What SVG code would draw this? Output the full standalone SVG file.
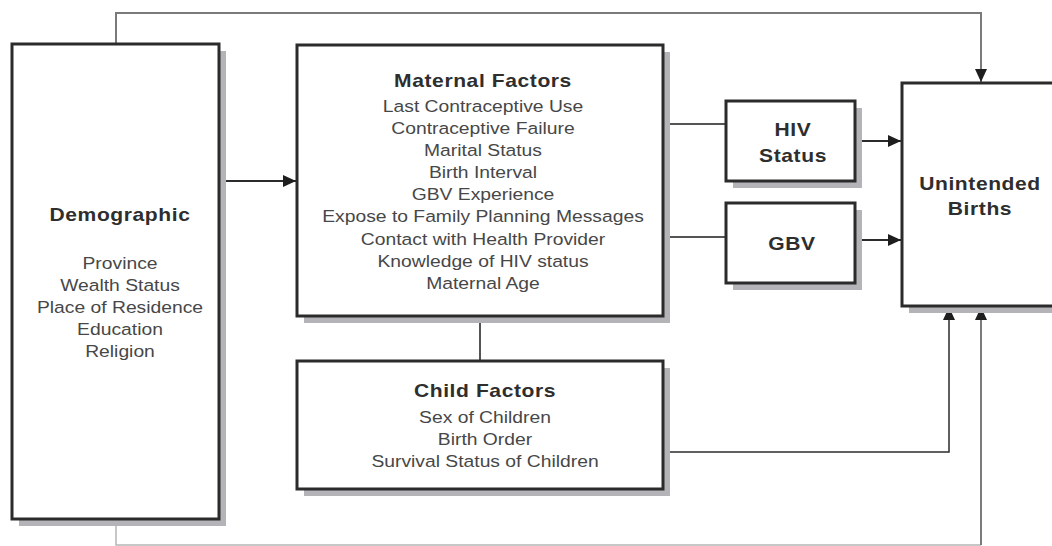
<svg xmlns="http://www.w3.org/2000/svg" width="1052" height="546" viewBox="0 0 1052 546">
<style>
.box{fill:#ffffff;stroke:#2b2b2b;stroke-width:3}
.shadow{fill:#b3b3b8;stroke:none}
.title{font-family:"Liberation Sans",Arial,sans-serif;font-weight:bold;font-size:18px;letter-spacing:0.5px;fill:#2e2e2e;text-anchor:middle}
.item{font-family:"Liberation Sans",Arial,sans-serif;font-size:16.5px;fill:#474747;text-anchor:middle}
.c-dark{fill:none;stroke:#2b2b2b;stroke-width:2}
.c-grey{fill:none;stroke:#7a7a7a;stroke-width:2}
.c-mid{fill:none;stroke:#555555;stroke-width:2}
.c-thin{fill:none;stroke:#2b2b2b;stroke-width:1.5}
.c-light{fill:none;stroke:#b5b5b5;stroke-width:1.5}
</style>
<defs>
<marker id="arr" markerUnits="userSpaceOnUse" markerWidth="14" markerHeight="14" viewBox="0 0 14 14" refX="13" refY="7" orient="auto">
<path d="M0,1 L13,7 L0,13 Z" fill="#1e1e1e"/>
</marker>
</defs>
<rect width="1052" height="546" fill="#ffffff"/>

<g id="connectors">
<path class="c-grey" d="M116,44 V13 H981 V82" marker-end="url(#arr)"/>
<path class="c-light" d="M116,519 V545 H981"/>
<path class="c-grey" d="M981,545 V307" marker-end="url(#arr)"/>
<path class="c-dark" d="M219,181 H296" marker-end="url(#arr)"/>
<path class="c-mid" d="M663,124 H726"/>
<path class="c-mid" d="M663,237 H726"/>
<path class="c-dark" d="M855,141 H901" marker-end="url(#arr)"/>
<path class="c-dark" d="M855,240 H901" marker-end="url(#arr)"/>
<path class="c-mid" d="M480,316 V361"/>
<path class="c-thin" d="M664,452 H949 V307" marker-end="url(#arr)"/>
</g>

<g id="demographic">
<rect class="shadow" x="19" y="51" width="207" height="475"/>
<rect class="box" x="12" y="44" width="207" height="475"/>
<g transform="translate(120,0) scale(1.17,1)">
<text class="title" x="0" y="221">Demographic</text>
<text class="item" x="0" y="269">Province</text>
<text class="item" x="0" y="291">Wealth Status</text>
<text class="item" x="0" y="313">Place of Residence</text>
<text class="item" x="0" y="335">Education</text>
<text class="item" x="0" y="357">Religion</text>
</g>
</g>

<g id="maternal">
<rect class="shadow" x="304" y="52" width="366" height="271"/>
<rect class="box" x="297" y="45" width="366" height="271"/>
<g transform="translate(483,0) scale(1.17,1)">
<text class="title" x="0" y="87">Maternal Factors</text>
<text class="item" x="0" y="112">Last Contraceptive Use</text>
<text class="item" x="0" y="134">Contraceptive Failure</text>
<text class="item" x="0" y="156">Marital Status</text>
<text class="item" x="0" y="178.5">Birth Interval</text>
<text class="item" x="0" y="200.5">GBV Experience</text>
<text class="item" x="0" y="222.5">Expose to Family Planning Messages</text>
<text class="item" x="0" y="245">Contact with Health Provider</text>
<text class="item" x="0" y="267">Knowledge of HIV status</text>
<text class="item" x="0" y="289">Maternal Age</text>
</g>
</g>

<g id="hiv">
<rect class="shadow" x="733" y="108" width="129" height="80"/>
<rect class="box" x="726" y="101" width="129" height="80"/>
<g transform="translate(793,0) scale(1.17,1)">
<text class="title" x="0" y="136">HIV</text>
<text class="title" x="0" y="162">Status</text>
</g>
</g>

<g id="gbv">
<rect class="shadow" x="733" y="210" width="129" height="80"/>
<rect class="box" x="726" y="203" width="129" height="80"/>
<g transform="translate(792,0) scale(1.17,1)">
<text class="title" x="0" y="250">GBV</text>
</g>
</g>

<g id="child">
<rect class="shadow" x="304" y="368" width="366" height="128"/>
<rect class="box" x="297" y="361" width="366" height="128"/>
<g transform="translate(485,0) scale(1.17,1)">
<text class="title" x="0" y="397">Child Factors</text>
<text class="item" x="0" y="423">Sex of Children</text>
<text class="item" x="0" y="445">Birth Order</text>
<text class="item" x="0" y="467">Survival Status of Children</text>
</g>
</g>

<g id="unintended">
<rect class="shadow" x="909" y="90" width="160" height="223"/>
<rect class="box" x="902" y="83" width="160" height="223"/>
<g transform="translate(980,0) scale(1.17,1)">
<text class="title" x="0" y="190">Unintended</text>
<text class="title" x="0" y="215">Births</text>
</g>
</g>
</svg>
